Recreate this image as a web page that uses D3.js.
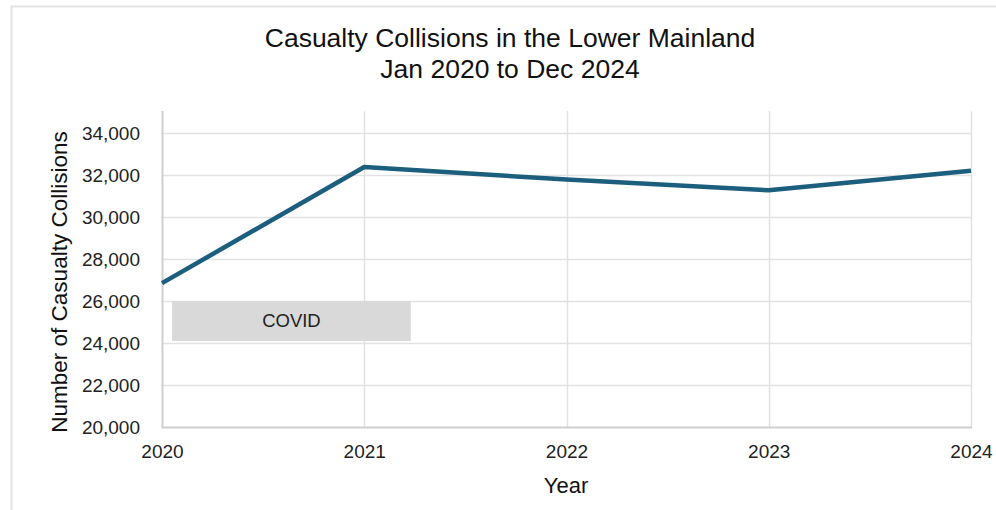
<!DOCTYPE html>
<html>
<head>
<meta charset="utf-8">
<script src="https://cdn.jsdelivr.net/npm/d3@7"></script>
<style>
  html, body { margin: 0; padding: 0; background: #fff; }
  svg { display: block; font-family: "Liberation Sans", Arial, sans-serif; }
</style>
</head>
<body>
<svg id="chart" width="996" height="510"></svg>
<script>
// Annual casualty collisions, Lower Mainland
const years = [2020, 2021, 2022, 2023, 2024];
const collisions = [26850, 32380, 31780, 31270, 32200];
const yTicks = [20000, 22000, 24000, 26000, 28000, 30000, 32000, 34000];
// Shaded COVID band: [start year, end year] and [low, high] in collisions
const covidYears = [2020.05, 2021.23];
const covidRange = [24100, 26000];
const titleLines = ["Casualty Collisions in the Lower Mainland", "Jan 2020 to Dec 2024"];

const svg = d3.select("#chart");
const W = 996, H = 510;
const margin = { left: 162, right: 25, top: 111, bottom: 83 };
const plotW = W - margin.left - margin.right;
const plotH = H - margin.top - margin.bottom;
const FONT = "Liberation Sans, Arial, sans-serif";

// outer frame
svg.append("path")
  .attr("d", `M11.5,${H} L11.5,6.5 L${W},6.5`)
  .attr("fill", "none").attr("stroke", "#e3e3e3").attr("stroke-width", 2);

const x = d3.scaleLinear().domain([2020, 2024]).range([margin.left, margin.left + plotW]);
const y = d3.scaleLinear().domain([20000, 35000]).range([margin.top + plotH, margin.top + plotH - 315]);

const g = svg.append("g");

// horizontal gridlines
g.selectAll("line.hg").data(yTicks.slice(1)).join("line")
  .attr("x1", x(2020)).attr("x2", x(2024))
  .attr("y1", d => Math.round(y(d)) + 0.5).attr("y2", d => Math.round(y(d)) + 0.5)
  .attr("stroke", "#e2e2e2").attr("stroke-width", 1.5);

// vertical gridlines
g.selectAll("line.vg").data(years.slice(1)).join("line")
  .attr("x1", d => Math.round(x(d)) + 0.5).attr("x2", d => Math.round(x(d)) + 0.5)
  .attr("y1", margin.top).attr("y2", y(20000))
  .attr("stroke", "#e2e2e2").attr("stroke-width", 1.5);

// axes
const yAxis = d3.axisLeft(y).tickValues(yTicks).tickFormat(d3.format(",")).tickSize(0).tickPadding(22);
const yg = svg.append("g").attr("transform", `translate(${x(2020)},0)`).call(yAxis);
yg.select(".domain").remove();
yg.selectAll("text").attr("font-size", 19).attr("fill", "#222").attr("font-family", FONT);

const xAxis = d3.axisBottom(x).tickValues(years).tickFormat(d3.format("d")).tickSize(0).tickPadding(18);
const xg = svg.append("g").attr("transform", `translate(0,${y(20000)})`).call(xAxis);
xg.select(".domain").remove();
xg.selectAll("text").attr("font-size", 19).attr("fill", "#222").attr("font-family", FONT);

// axis lines
svg.append("line")
  .attr("x1", Math.round(x(2020)) + 0.5).attr("x2", Math.round(x(2020)) + 0.5)
  .attr("y1", margin.top).attr("y2", y(20000) + 1)
  .attr("stroke", "#cfcfcf").attr("stroke-width", 2);
svg.append("line")
  .attr("x1", x(2020)).attr("x2", x(2024) + 1)
  .attr("y1", Math.round(y(20000)) + 0.5).attr("y2", Math.round(y(20000)) + 0.5)
  .attr("stroke", "#cfcfcf").attr("stroke-width", 2);

// COVID band
svg.append("rect")
  .attr("x", x(covidYears[0])).attr("y", y(covidRange[1]))
  .attr("width", x(covidYears[1]) - x(covidYears[0]))
  .attr("height", y(covidRange[0]) - y(covidRange[1]))
  .attr("fill", "#d9d9d9");
svg.append("text")
  .attr("x", (x(covidYears[0]) + x(covidYears[1])) / 2)
  .attr("y", (y(covidRange[0]) + y(covidRange[1])) / 2)
  .attr("text-anchor", "middle").attr("dominant-baseline", "central")
  .attr("font-size", 18.5).attr("fill", "#222").text("COVID");

// data line
const line = d3.line().x((d, i) => x(years[i])).y(d => y(d));
svg.append("path").datum(collisions)
  .attr("d", line).attr("fill", "none")
  .attr("stroke", "#1b5e7e").attr("stroke-width", 4.5)
  .attr("stroke-linejoin", "round");

// titles
svg.append("g").selectAll("text").data(titleLines).join("text")
  .attr("x", 510).attr("y", (d, i) => 47 + i * 31)
  .attr("text-anchor", "middle").attr("font-size", 26.5).attr("fill", "#111")
  .text(d => d);

svg.append("text")
  .attr("transform", `translate(67,282) rotate(-90)`)
  .attr("text-anchor", "middle").attr("font-size", 22.5).attr("fill", "#111")
  .text("Number of Casualty Collisions");

svg.append("text")
  .attr("x", 566).attr("y", 493)
  .attr("text-anchor", "middle").attr("font-size", 22).attr("fill", "#111")
  .text("Year");
</script>
</body>
</html>
